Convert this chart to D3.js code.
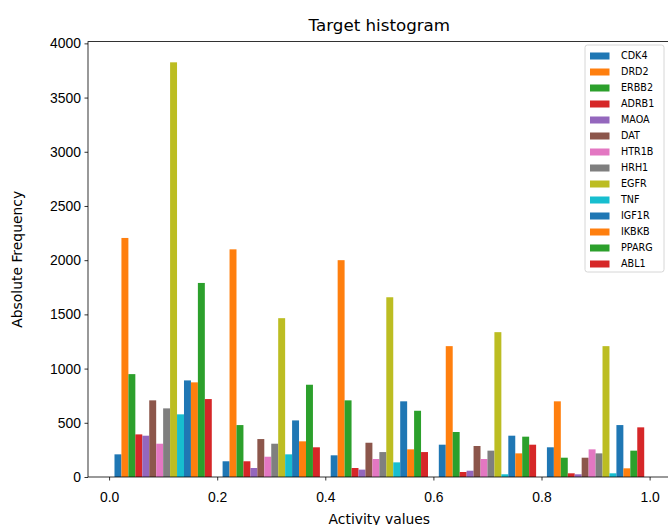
<!DOCTYPE html>
<html>
<head>
<meta charset="utf-8">
<script src="https://cdn.jsdelivr.net/npm/d3@7"></script>
<style>
  body { margin: 0; background: #fff; }
  svg { font-family: "DejaVu Sans", sans-serif; }
</style>
</head>
<body>
<div id="chart"></div>
<script>
// bin edges of the histogram
var binEdges = [0.0, 0.2, 0.4, 0.6, 0.8, 1.0];
var targets = ["CDK4", "DRD2", "ERBB2", "ADRB1", "MAOA", "DAT", "HTR1B", "HRH1", "EGFR", "TNF", "IGF1R", "IKBKB", "PPARG", "ABL1"];
// counts per bin, one array for each target
var CDK4  = [209, 145, 200, 298, 274];
var DRD2  = [2205, 2100, 2000, 1207, 698];
var ERBB2 = [949, 479, 707, 415, 178];
var ADRB1 = [393, 145, 83, 46, 34];
var MAOA  = [381, 83, 68, 58, 25];
var DAT   = [707, 350, 316, 286, 178];
var HTR1B = [307, 187, 166, 166, 255];
var HRH1  = [633, 307, 230, 243, 218];
var EGFR  = [3825, 1465, 1658, 1336, 1207];
var TNF   = [578, 209, 135, 25, 34];
var IGF1R = [891, 522, 698, 381, 479];
var IKBKB = [873, 329, 255, 218, 80];
var PPARG = [1790, 851, 611, 372, 243];
var ABL1  = [719, 274, 230, 298, 458];
var counts = [CDK4, DRD2, ERBB2, ADRB1, MAOA, DAT, HTR1B, HRH1, EGFR, TNF, IGF1R, IKBKB, PPARG, ABL1];
var xTicks = [0.0, 0.2, 0.4, 0.6, 0.8, 1.0];
var yTicks = [0, 500, 1000, 1500, 2000, 2500, 3000, 3500, 4000];

var colors = ["#1f77b4", "#ff7f0e", "#2ca02c", "#d62728", "#9467bd", "#8c564b",
              "#e377c2", "#7f7f7f", "#bcbd22", "#17becf"];

const W = 668, H = 525;
const margin = { top: 41.6, left: 88, bottom: 48, right: -2.7 };
const rwidth = 0.9;

const svg = d3.select("#chart").append("svg")
    .attr("width", W)
    .attr("height", H);

// bars cover rwidth of each bin, limits padded by 5% like matplotlib
const binW = binEdges[1] - binEdges[0];
const lo = binEdges[0] + binW * (1 - rwidth) / 2;
const hi = binEdges[binEdges.length - 1] - binW * (1 - rwidth) / 2;
const pad = (hi - lo) * 0.05;
const maxY = d3.max(counts, c => d3.max(c));

const x = d3.scaleLinear()
    .domain([lo - pad, hi + pad])
    .range([margin.left, W - margin.right]);

const y = d3.scaleLinear()
    .domain([0, maxY * 1.05])
    .range([H - margin.bottom, margin.top]);

const n = targets.length;
const barW = rwidth * binW / n;

targets.forEach((t, j) => {
    svg.append("g")
        .selectAll("rect")
        .data(counts[j])
        .join("rect")
        .attr("x", (d, i) => x(binEdges[i] + binW * (1 - rwidth) / 2 + j * barW))
        .attr("y", d => y(d))
        .attr("width", x(barW) - x(0))
        .attr("height", d => y(0) - y(d))
        .attr("fill", colors[j % colors.length]);
});

// axes
const xAxis = d3.axisBottom(x).tickValues(xTicks).tickFormat(d3.format(".1f")).tickSize(3.5).tickPadding(3.5).tickSizeOuter(0);
const yAxis = d3.axisLeft(y).tickValues(yTicks).tickFormat(d3.format("d")).tickSize(3.5).tickPadding(3.5).tickSizeOuter(0);

const gx = svg.append("g")
    .attr("transform", `translate(0,${H - margin.bottom})`)
    .call(xAxis);
const gy = svg.append("g")
    .attr("transform", `translate(${margin.left},0)`)
    .call(yAxis);

[gx, gy].forEach(g => {
    g.select(".domain").remove();
    g.selectAll("line").attr("stroke", "#000").attr("stroke-width", 0.8);
    g.selectAll("text").attr("fill", "#000").style("font-size", "13.9px");
});
gx.selectAll("text").attr("dy", "1.3em");

// frame
svg.append("rect")
    .attr("x", margin.left)
    .attr("y", margin.top)
    .attr("width", W - margin.right - margin.left)
    .attr("height", H - margin.bottom - margin.top)
    .attr("fill", "none")
    .attr("stroke", "#000")
    .attr("stroke-width", 0.8);

const cx = (margin.left + W - margin.right) / 2;
svg.append("text")
    .attr("x", cx)
    .attr("y", margin.top - 11)
    .attr("text-anchor", "middle")
    .style("font-size", "16.7px")
    .text("Target histogram");

svg.append("text")
    .attr("x", cx)
    .attr("y", H - 1)
    .attr("text-anchor", "middle")
    .style("font-size", "13.9px")
    .text("Activity values");

svg.append("text")
    .attr("transform", `translate(22,${(margin.top + H - margin.bottom) / 2}) rotate(-90)`)
    .attr("text-anchor", "middle")
    .style("font-size", "13.9px")
    .text("Absolute Frequency");

// legend
const leg = svg.append("g").attr("transform", "translate(585,45)");
leg.append("rect")
    .attr("width", 79)
    .attr("height", 227)
    .attr("rx", 2.5)
    .attr("fill", "#fff")
    .attr("fill-opacity", 0.8)
    .attr("stroke", "#ccc")
    .attr("stroke-width", 0.8);

const items = leg.selectAll("g.item")
    .data(targets)
    .join("g")
    .attr("class", "item")
    .attr("transform", (d, i) => `translate(0,${11 + i * 16})`);

items.append("rect")
    .attr("x", 5)
    .attr("y", -3.5)
    .attr("width", 19.5)
    .attr("height", 7)
    .attr("fill", (d, i) => colors[i % colors.length]);

items.append("text")
    .attr("x", 36)
    .attr("dy", "0.35em")
    .style("font-size", "9.6px")
    .text(d => d);
</script>
</body>
</html>
